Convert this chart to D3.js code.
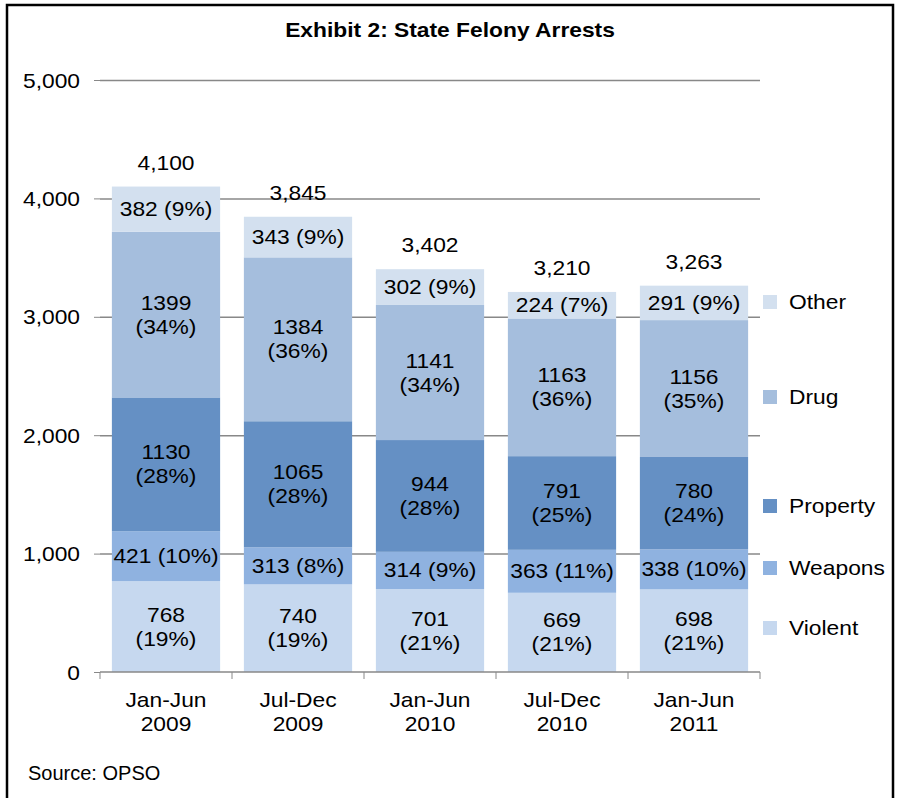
<!DOCTYPE html>
<html lang="en">
	<head>
		<meta charset="UTF-8" />
		<title>State Felony Arrests</title>
		<script src="https://d3js.org/d3.v7.min.js"></script>
		<style>
			body {
				margin: 0;
				background: #fff;
			}
			text {
				font-family: "Liberation Sans", Arial, sans-serif;
				fill: #000;
			}
		</style>
	</head>
	<body>
		<svg width="899" height="798"></svg>

		<script>
			const width = 899;
			const height = 798;

			const periods = [
				["Jan-Jun", "2009"],
				["Jul-Dec", "2009"],
				["Jan-Jun", "2010"],
				["Jul-Dec", "2010"],
				["Jan-Jun", "2011"],
			];
			const categories = ["Violent", "Weapons", "Property", "Drug", "Other"];
			const violent = [768, 740, 701, 669, 698];
			const weapons = [421, 313, 314, 363, 338];
			const property = [1130, 1065, 944, 791, 780];
			const drug = [1399, 1384, 1141, 1163, 1156];
			const other = [382, 343, 302, 224, 291];
			const violentPct = [19, 19, 21, 21, 21];
			const weaponsPct = [10, 8, 9, 11, 10];
			const propertyPct = [28, 28, 28, 25, 24];
			const drugPct = [34, 36, 34, 36, 35];
			const otherPct = [9, 9, 9, 7, 9];
			const totals = [4100, 3845, 3402, 3210, 3263];
			const yTicks = [0, 1000, 2000, 3000, 4000, 5000];

			const series = {
				Violent: { values: violent, pct: violentPct, oneLine: false },
				Weapons: { values: weapons, pct: weaponsPct, oneLine: true },
				Property: { values: property, pct: propertyPct, oneLine: false },
				Drug: { values: drug, pct: drugPct, oneLine: false },
				Other: { values: other, pct: otherPct, oneLine: true },
			};

			const color = d3
				.scaleOrdinal()
				.domain(categories)
				.range(["#c6d8ef", "#8fb2e0", "#6590c4", "#a5bedd", "#d3e0ef"]);

			const margin = { left: 100, right: 760, top: 80, bottom: 672 };
			const SX = 1.14; // the exhibit's text is a bit wider than plain Arial

			const x = d3
				.scaleBand()
				.domain(d3.range(periods.length))
				.range([margin.left, margin.right])
				.paddingInner(0.18)
				.paddingOuter(0.09);

			const y = d3.scaleLinear().domain([0, 5000]).range([margin.bottom, margin.top]);

			const rows = periods.map((p, i) => {
				const r = { i: i };
				categories.forEach((c) => (r[c] = series[c].values[i]));
				return r;
			});
			const stacked = d3.stack().keys(categories)(rows);

			const svg = d3.select("svg");

			// widened text, lines stacked 24px apart
			function label(parent, px, py, lines, opts = {}) {
				const t = parent
					.append("text")
					.attr("transform", `translate(${px},${py}) scale(${SX},1)`)
					.attr("text-anchor", opts.anchor || "middle")
					.style("font-size", (opts.size || 20) + "px")
					.style("font-weight", opts.weight || "normal");
				lines.forEach((l, k) => {
					t.append("tspan")
						.attr("x", 0)
						.attr("y", k * 24)
						.text(l);
				});
				return t;
			}

			// outer frame
			svg
				.append("rect")
				.attr("x", 7)
				.attr("y", 5)
				.attr("width", 886)
				.attr("height", 800)
				.attr("fill", "none")
				.attr("stroke", "#000")
				.attr("stroke-width", 2.5);

			label(svg, 450, 37, ["Exhibit 2: State Felony Arrests"], { weight: "bold" });

			// gridlines + y labels
			const yAxis = svg
				.append("g")
				.attr("transform", `translate(${margin.left},0)`)
				.call(d3.axisLeft(y).tickValues(yTicks).tickFormat("").tickSize(6));
			yAxis.select(".domain").remove();
			yAxis.selectAll("line").attr("stroke", "#888");
			yAxis
				.selectAll(".tick")
				.filter((d) => d > 0)
				.append("line")
				.attr("x2", margin.right - margin.left)
				.attr("stroke", "#888")
				.attr("stroke-width", 1.5);
			yAxis.selectAll(".tick").each(function (d) {
				label(d3.select(this), -20, 7, [d3.format(",")(d)], { anchor: "end" });
			});

			// bars
			const layer = svg
				.append("g")
				.selectAll("g")
				.data(stacked)
				.join("g")
				.attr("fill", (d) => color(d.key));

			layer
				.selectAll("rect")
				.data((d) => d)
				.join("rect")
				.attr("x", (d, i) => x(i))
				.attr("width", x.bandwidth())
				.attr("y", (d) => y(d[1]))
				.attr("height", (d) => y(d[0]) - y(d[1]));

			// segment labels
			const segLabels = svg.append("g");
			stacked.forEach((s) => {
				const info = series[s.key];
				s.forEach((d, i) => {
					const cx = x(i) + x.bandwidth() / 2;
					const cy = (y(d[0]) + y(d[1])) / 2;
					if (info.oneLine) {
						label(segLabels, cx, cy + 7, [`${info.values[i]} (${info.pct[i]}%)`]);
					} else {
						label(segLabels, cx, cy - 5, [String(info.values[i]), `(${info.pct[i]}%)`]);
					}
				});
			});

			// totals
			const totalLabels = svg.append("g");
			totals.forEach((d, i) => {
				label(totalLabels, x(i) + x.bandwidth() / 2, y(d) - 17, [d3.format(",")(d)]);
			});

			// x axis
			const xAxis = svg
				.append("g")
				.attr("transform", `translate(0,${margin.bottom})`);
			xAxis
				.append("line")
				.attr("x1", margin.left)
				.attr("x2", margin.right)
				.attr("stroke", "#888")
				.attr("stroke-width", 1.5);
			xAxis
				.selectAll(".tk")
				.data(d3.range(periods.length + 1))
				.join("line")
				.attr("class", "tk")
				.attr("x1", (d) => margin.left + d * x.step())
				.attr("x2", (d) => margin.left + d * x.step())
				.attr("y2", 7)
				.attr("stroke", "#888");
			periods.forEach((p, i) => {
				label(xAxis, x(i) + x.bandwidth() / 2, 35, p);
			});

			// legend (top to bottom, Other first)
			const legendY = { Other: 302, Drug: 397, Property: 506, Weapons: 568, Violent: 628 };
			const legend = svg
				.append("g")
				.selectAll("g")
				.data(categories.slice().reverse())
				.join("g")
				.attr("transform", (d) => `translate(763,${legendY[d]})`);
			legend
				.append("rect")
				.attr("x", 0)
				.attr("y", -7)
				.attr("width", 14)
				.attr("height", 14)
				.attr("fill", (d) => color(d));
			legend.each(function (d) {
				label(d3.select(this), 26, 7, [d], { anchor: "start" });
			});

			svg
				.append("text")
				.attr("x", 28)
				.attr("y", 780)
				.style("font-size", "20px")
				.text("Source: OPSO");
		</script>
	</body>
</html>
